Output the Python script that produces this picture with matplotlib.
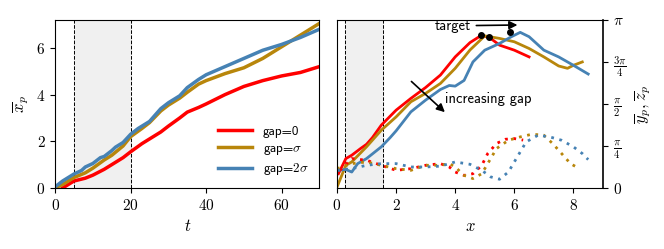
import numpy as np
import matplotlib
matplotlib.use("Agg")
import matplotlib.pyplot as plt

plt.rcParams["font.family"] = "serif"
plt.rcParams["font.serif"] = ["cmr10"]
plt.rcParams["mathtext.fontset"] = "cm"
plt.rcParams["axes.formatter.use_mathtext"] = True
plt.rcParams["font.size"] = 11

RED = "#ff0000"
GOLD = "#b8860b"
BLUE = "#4682b4"

# ---- left panel: mean x position vs time ----
t_red = [2, 5, 8, 10, 13, 15, 18, 20, 23, 25, 28, 30, 33, 35, 38, 40, 45, 50, 55, 60, 65, 70]
x_red = [0.0, 0.3, 0.42, 0.55, 0.8, 1.0, 1.3, 1.55, 1.9, 2.1, 2.4, 2.65, 3.0, 3.25, 3.45, 3.6,
         4.0, 4.35, 4.6, 4.8, 4.95, 5.2]
t_gold = [0, 2, 5, 8, 10, 13, 15, 18, 20, 23, 25, 28, 30, 33, 35, 38, 40, 45, 50, 55, 60, 65, 70]
x_gold = [0.0, 0.15, 0.45, 0.65, 0.85, 1.2, 1.4, 1.8, 2.2, 2.55, 2.8, 3.3, 3.55, 3.85, 4.1, 4.45,
          4.6, 4.9, 5.15, 5.55, 6.05, 6.55, 7.05]
t_blue = [0, 2, 5, 7, 8, 10, 12, 13, 15, 16, 18, 20, 22, 25, 28, 30, 33, 35, 38, 40, 45, 50, 55, 60, 65, 70]
x_blue = [0.05, 0.3, 0.6, 0.75, 0.9, 1.05, 1.3, 1.35, 1.6, 1.75, 1.95, 2.3, 2.55, 2.85, 3.4, 3.65,
          3.95, 4.3, 4.65, 4.85, 5.2, 5.55, 5.9, 6.15, 6.45, 6.8]

# ---- right panel: trajectories in units of pi ----
xr = [0.05, 0.3, 0.5, 0.8, 1.0, 1.2, 1.5, 2.0, 2.5, 3.0, 3.5, 4.0, 4.5, 4.9, 5.2, 5.5, 6.0, 6.5]
yr = [0.085, 0.175, 0.195, 0.235, 0.26, 0.3, 0.374, 0.463, 0.533, 0.598, 0.672, 0.78, 0.865, 0.91,
      0.89, 0.85, 0.82, 0.78]
xg = [0.0, 0.3, 0.5, 1.0, 1.5, 2.0, 2.5, 3.0, 3.5, 4.0, 4.5, 5.0, 5.5, 6.0, 6.5, 7.0, 7.5, 7.8, 8.0, 8.3]
yg = [0.005, 0.135, 0.155, 0.245, 0.344, 0.423, 0.513, 0.563, 0.622, 0.712, 0.821, 0.905, 0.89,
      0.87, 0.83, 0.78, 0.726, 0.712, 0.73, 0.75]
xb = [0.0, 0.3, 0.5, 0.7, 1.0, 1.5, 1.8, 2.0, 2.5, 3.0, 3.5, 3.8, 4.0, 4.3, 4.6, 5.0, 5.5, 5.9, 6.2,
      6.5, 7.0, 7.5, 8.0, 8.5]
yb = [0.105, 0.11, 0.095, 0.145, 0.175, 0.245, 0.3, 0.34, 0.453, 0.523, 0.586, 0.61, 0.606, 0.64,
      0.75, 0.82, 0.86, 0.9, 0.926, 0.9, 0.82, 0.78, 0.73, 0.678]

zr_x = [0.1, 0.5, 1.0, 1.5, 2.0, 2.5, 3.0, 3.5, 3.8, 4.0, 4.3, 4.6, 4.9, 5.1, 5.4, 5.7, 6.0, 6.3]
zr_y = [0.105, 0.175, 0.165, 0.135, 0.105, 0.115, 0.135, 0.145, 0.125, 0.095, 0.075, 0.085, 0.135,
        0.205, 0.265, 0.29, 0.294, 0.285]
zg_x = [0.0, 0.5, 1.0, 1.5, 2.0, 2.5, 3.0, 3.5, 3.8, 4.0, 4.3, 4.6, 4.9, 5.1, 5.4, 5.8, 6.2, 6.6,
        7.0, 7.3, 7.6, 7.9, 8.2]
zg_y = [0.115, 0.145, 0.155, 0.135, 0.115, 0.105, 0.135, 0.135, 0.145, 0.125, 0.075, 0.056, 0.085,
        0.145, 0.235, 0.284, 0.304, 0.32, 0.314, 0.264, 0.205, 0.145, 0.115]
zb_x = [0.0, 0.5, 1.0, 1.5, 2.0, 2.5, 3.0, 3.5, 4.0, 4.5, 4.9, 5.2, 5.5, 5.8, 6.1, 6.4, 6.8, 7.2,
        7.6, 8.0, 8.3, 8.5]
zb_y = [0.105, 0.115, 0.135, 0.145, 0.145, 0.125, 0.125, 0.13, 0.155, 0.141, 0.105, 0.066, 0.052,
        0.095, 0.185, 0.274, 0.314, 0.304, 0.284, 0.245, 0.205, 0.169]

target_x = [4.86, 5.14, 5.87]
target_y = [0.91, 0.90, 0.926]

labels = ["gap=0", r"gap=$\sigma$", r"gap=$2\sigma$"]

fig = plt.figure(figsize=(6.64, 2.49), dpi=100)
ax1 = fig.add_axes([0.083, 0.245, 0.398, 0.675])
ax2 = fig.add_axes([0.5075, 0.245, 0.4006, 0.675])

# left
ax1.axvspan(5, 20, color="#f0f0f0", zorder=0)
ax1.axvline(5, color="k", ls="--", lw=0.7)
ax1.axvline(20, color="k", ls="--", lw=0.7)
ax1.plot(t_red, x_red, color=RED, lw=2.5, label=labels[0])
ax1.plot(t_gold, x_gold, color=GOLD, lw=2.5, label=labels[1])
ax1.plot(t_blue, x_blue, color=BLUE, lw=2.5, label=labels[2])
ax1.set_xlim(0, 70)
ax1.set_ylim(0, 7.2)
ax1.set_xticks([0, 20, 40, 60])
ax1.set_yticks([0, 2, 4, 6])
ax1.set_xlabel(r"$t$", fontsize=12)
ax1.set_ylabel(r"$\overline{x}_p$", fontsize=12)
ax1.legend(loc="lower right", frameon=False, handlelength=2.6, handletextpad=0.8,
           prop={"family": "cmss10", "size": 9.5}, labelspacing=0.35, borderaxespad=0.4)

# right
pi = np.pi
ax2.axvspan(0.28, 1.55, color="#f0f0f0", zorder=0)
ax2.axvline(0.28, color="k", ls="--", lw=0.7)
ax2.axvline(1.55, color="k", ls="--", lw=0.7)
ax2.plot(xr, np.array(yr) * pi, color=RED, lw=2)
ax2.plot(xg, np.array(yg) * pi, color=GOLD, lw=2)
ax2.plot(xb, np.array(yb) * pi, color=BLUE, lw=2)
ax2.plot(zr_x, np.array(zr_y) * pi, color=RED, lw=2, ls=(0, (1, 2)))
ax2.plot(zg_x, np.array(zg_y) * pi, color=GOLD, lw=2, ls=(0, (1, 2)))
ax2.plot(zb_x, np.array(zb_y) * pi, color=BLUE, lw=2, ls=(0, (1, 2)))
ax2.plot(target_x, np.array(target_y) * pi, "o", color="k", ms=4)
ax2.set_xlim(0, 9)
ax2.set_ylim(0, pi)
ax2.set_xticks([0, 2, 4, 6, 8])
ax2.set_yticks([0, pi / 4, pi / 2, 3 * pi / 4, pi])
ax2.set_yticklabels([r"$0$", r"$\frac{\pi}{4}$", r"$\frac{\pi}{2}$", r"$\frac{3\pi}{4}$", r"$\pi$"])
ax2.yaxis.tick_right()
ax2.yaxis.set_label_position("right")
ax2.set_xlabel(r"$x$", fontsize=12)
ax2.set_ylabel(r"$\overline{y}_p, \overline{z}_p$", fontsize=12)
ax2.spines["right"].set_linewidth(1.2)

ax2.annotate("target", xy=(6.2, 0.97 * pi), xytext=(3.3, 0.965 * pi),
             fontsize=10.5, family="cmss10", va="center",
             arrowprops=dict(arrowstyle="-|>", color="k", lw=1.2, mutation_scale=12))
ax2.annotate("", xy=(3.72, 0.44 * pi), xytext=(2.45, 0.645 * pi),
             arrowprops=dict(arrowstyle="-|>", color="k", lw=1.2, mutation_scale=12))
ax2.text(3.65, 0.53 * pi, "increasing gap", fontsize=10.5, family="cmss10", va="center")

fig.savefig("out.png", dpi=100)
